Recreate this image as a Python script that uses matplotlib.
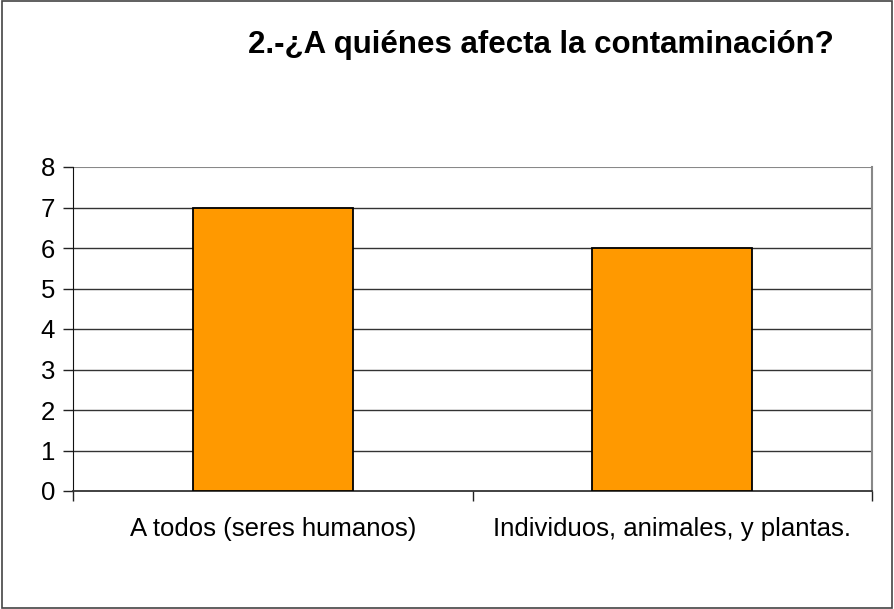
import matplotlib.pyplot as plt
import matplotlib.patches as mpatches

categorias = ['A todos (seres humanos)', 'Individuos, animales, y plantas.']
valores = [7, 6]
titulo = '2.-¿A quiénes afecta la contaminación?'

plt.rcParams['font.family'] = ['Liberation Sans', 'DejaVu Sans']

fig = plt.figure(figsize=(8.94, 6.09), dpi=100)
# marco de la figura
fig.patches.append(mpatches.Rectangle((0.002, 0.002), 0.996, 0.996, transform=fig.transFigure,
                                      fill=False, edgecolor='#444444', linewidth=1.2))

ax = fig.add_axes([73 / 894, 1 - 491 / 609, (872 - 73) / 894, (491 - 167) / 609])
x = range(len(categorias))
ax.bar(x, valores, width=0.4, color='#FF9900', edgecolor='black', linewidth=1.3, zorder=3)

ax.set_xlim(-0.5, 1.5)
ax.set_ylim(0, 8)
ax.set_yticks(range(0, 9))
ax.tick_params(axis='y', labelsize=18.5, length=7, width=1, pad=6, color='#222222')
ax.set_xticks([-0.5, 0.5, 1.5])
ax.set_xticklabels([])
ax.set_xticks(list(x), minor=True)
ax.set_xticklabels(categorias, minor=True)
ax.tick_params(axis='x', which='major', length=7, width=1, direction='out', color='#222222')
ax.tick_params(axis='x', which='minor', length=0, labelsize=18.5, pad=19)

for v in range(1, 8):
    ax.axhline(v, color='#333333', linewidth=1, zorder=1)
ax.axhline(8, color='#888888', linewidth=1.5, zorder=1)

ax.spines['top'].set_visible(False)
ax.spines['right'].set_color('#888888')
ax.spines['right'].set_linewidth(1.5)
ax.spines['left'].set_color('#111111')
ax.spines['bottom'].set_color('#333333')
ax.spines['bottom'].set_linewidth(1.3)

fig.text(541 / 894, 1 - 45 / 609, titulo, ha='center', va='center',
         fontsize=22.5, fontweight='bold')

plt.savefig('out.png', dpi=100)
